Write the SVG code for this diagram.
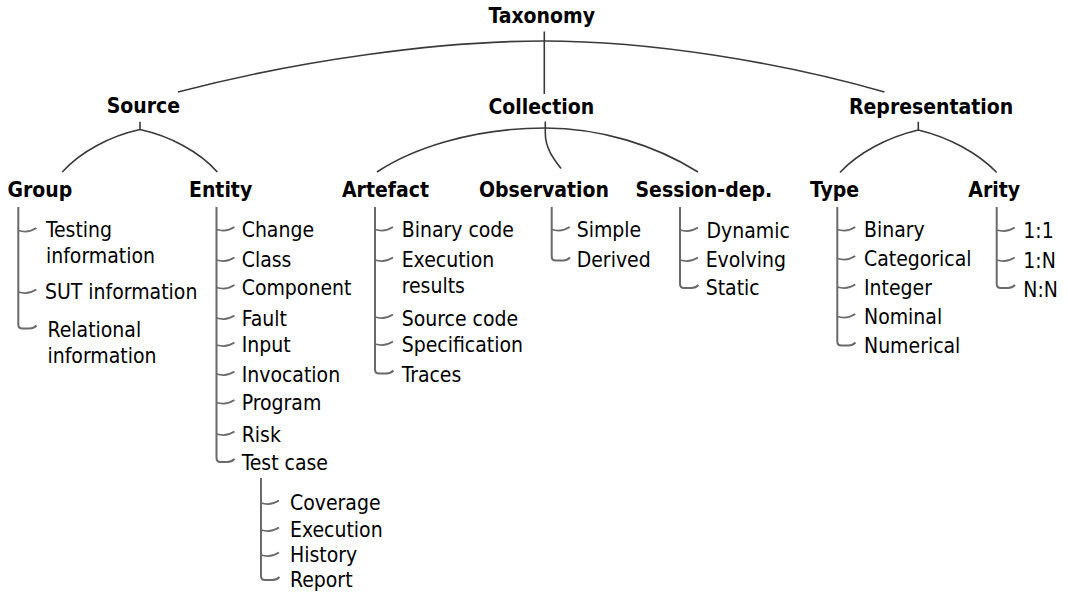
<svg xmlns="http://www.w3.org/2000/svg" width="1068" height="597" viewBox="0 0 1068 597">
<style>
text{font-family:"DejaVu Sans Condensed","DejaVu Sans",sans-serif;font-stretch:condensed;fill:#000}
.h{font-weight:bold;font-size:21px}
.t{font-size:21px}
.arc{fill:none;stroke:#3a3a3a;stroke-width:1.6}
.br{fill:none;stroke:#6a6a6a;stroke-width:2}
.tk{fill:none;stroke:#6a6a6a;stroke-width:1.8}
</style>
<rect width="1068" height="597" fill="#fff"/>
<g id="connectors">
<path class="arc" d="M178,92 C300,60 440,41 544,41 C650,41 780,62 884.5,92"/>
<path class="arc" d="M544.3,31.5 V94"/>
<path class="arc" d="M140,121.7 V129.5 M140,129.5 C110,136 80,152 62.3,172 M140,129.5 C170,136 200,152 217.3,172"/>
<path class="arc" d="M377,172 C410,150 470,128 545,128 C600,128 655,145 698,172"/>
<path class="arc" d="M545.3,121.5 V133 C545.3,148 553,158 561,168.5"/>
<path class="arc" d="M918.3,121.7 V130 M918.3,130 C888,137 858,153 840,172.5 M918.3,130 C948,137 978,153 996.7,172.5"/>
<g id="brackets">
<path class="br" d="M18.3,207 V324.5 Q18.3,328.5 22.3,328.5 L29.5,328.5 Q33.5,328.5 36.5,325.5"/>
<path class="tk" d="M18.3,230.5 c6,1.8 12,1.5 18,-2.5 M18.3,292 c6,1.8 12,1.5 18,-2.5"/>
<path class="br" d="M216.5,207 V458 Q216.5,462 220.5,462 L227.5,462 Q231.5,462 234.5,459"/>
<path class="tk" d="M216.5,229.5 c6,1.8 12,1.5 18,-2.5 M216.5,260 c6,1.8 12,1.5 18,-2.5 M216.5,287.5 c6,1.8 12,1.5 18,-2.5 M216.5,318 c6,1.8 12,1.5 18,-2.5 M216.5,345 c6,1.8 12,1.5 18,-2.5 M216.5,374 c6,1.8 12,1.5 18,-2.5 M216.5,402.5 c6,1.8 12,1.5 18,-2.5 M216.5,434 c6,1.8 12,1.5 18,-2.5"/>
<path class="br" d="M261,478 V576 Q261,580 265,580 L272.5,580 Q276.5,580 279.5,577"/>
<path class="tk" d="M261,503 c6,1.8 12,1.5 18,-2.5 M261,530 c6,1.8 12,1.5 18,-2.5 M261,555 c6,1.8 12,1.5 18,-2.5"/>
<path class="br" d="M375,207 V369.5 Q375,373.5 379,373.5 L386.5,373.5 Q390.5,373.5 393.5,370.5"/>
<path class="tk" d="M375,229.5 c6,1.8 12,1.5 18,-2.5 M375,260 c6,1.8 12,1.5 18,-2.5 M375,317 c6,1.8 12,1.5 18,-2.5 M375,344 c6,1.8 12,1.5 18,-2.5"/>
<path class="br" d="M551.7,207 V256.5 Q551.7,260.5 555.7,260.5 L563,260.5 Q567,260.5 570,257.5"/>
<path class="tk" d="M551.7,229.5 c6,1.8 12,1.5 18,-2.5"/>
<path class="br" d="M680,207 V284 Q680,288 684,288 L691.5,288 Q695.5,288 698.5,285"/>
<path class="tk" d="M680,230 c6,1.8 12,1.5 18,-2.5 M680,260 c6,1.8 12,1.5 18,-2.5"/>
<path class="br" d="M837.3,207 V341.5 Q837.3,345.5 841.3,345.5 L848.5,345.5 Q852.5,345.5 855.5,342.5"/>
<path class="tk" d="M837.3,229.5 c6,1.8 12,1.5 18,-2.5 M837.3,258.5 c6,1.8 12,1.5 18,-2.5 M837.3,287 c6,1.8 12,1.5 18,-2.5 M837.3,316.5 c6,1.8 12,1.5 18,-2.5"/>
<path class="br" d="M996.7,207 V284 Q996.7,288 1000.7,288 L1008,288 Q1012,288 1015,285"/>
<path class="tk" d="M996.7,230 c6,1.8 12,1.5 18,-2.5 M996.7,260 c6,1.8 12,1.5 18,-2.5"/>
</g>
</g>
<g id="n-taxonomy"><text class="h" x="488.5" y="23">Taxonomy</text></g>
<g id="n-source"><text class="h" x="106.7" y="112.5">Source</text></g>
<g id="n-collection"><text class="h" x="488.5" y="113.5">Collection</text></g>
<g id="n-representation"><text class="h" x="849" y="113.5">Representation</text></g>
<g id="n-group"><text class="h" x="7.5" y="196.5">Group</text></g>
<g id="n-entity"><text class="h" x="189" y="196.5">Entity</text></g>
<g id="n-artefact"><text class="h" x="342" y="196.5">Artefact</text></g>
<g id="n-observation"><text class="h" x="479" y="196.5">Observation</text></g>
<g id="n-session"><text class="h" x="635.5" y="196.5">Session-dep.</text></g>
<g id="n-type"><text class="h" x="810" y="196.5">Type</text></g>
<g id="n-arity"><text class="h" x="968.3" y="196.5">Arity</text></g>
<g id="n-group-items">
<text class="t" x="46" y="236.7">Testing</text>
<text class="t" x="46" y="263.3">information</text>
<text class="t" x="45" y="299">SUT information</text>
<text class="t" x="47.5" y="336.7">Relational</text>
<text class="t" x="47.5" y="362.7">information</text>
</g>
<g id="n-entity-items">
<text class="t" x="241.7" y="236.7">Change</text>
<text class="t" x="241.7" y="267.3">Class</text>
<text class="t" x="241.7" y="295">Component</text>
<text class="t" x="241.7" y="325.7">Fault</text>
<text class="t" x="241.7" y="352.3">Input</text>
<text class="t" x="241.7" y="381.5">Invocation</text>
<text class="t" x="241.7" y="410">Program</text>
<text class="t" x="241.7" y="441.7">Risk</text>
<text class="t" x="241.7" y="470">Test case</text>
</g>
<g id="n-testcase-items">
<text class="t" x="290" y="510">Coverage</text>
<text class="t" x="290" y="537.3">Execution</text>
<text class="t" x="290" y="561.7">History</text>
<text class="t" x="290" y="587.3">Report</text>
</g>
<g id="n-artefact-items">
<text class="t" x="401.7" y="236.7">Binary code</text>
<text class="t" x="401.7" y="267.3">Execution</text>
<text class="t" x="401.7" y="293.3">results</text>
<text class="t" x="401.7" y="325.7">Source code</text>
<text class="t" x="401.7" y="352.3">Specification</text>
<text class="t" x="401.7" y="381.5">Traces</text>
</g>
<g id="n-observation-items">
<text class="t" x="576.7" y="236.7">Simple</text>
<text class="t" x="576.7" y="267.3">Derived</text>
</g>
<g id="n-session-items">
<text class="t" x="706.5" y="238.3">Dynamic</text>
<text class="t" x="705.7" y="267.3">Evolving</text>
<text class="t" x="705.7" y="295">Static</text>
</g>
<g id="n-type-items">
<text class="t" x="864" y="236.7">Binary</text>
<text class="t" x="864" y="266">Categorical</text>
<text class="t" x="864" y="295">Integer</text>
<text class="t" x="864" y="324">Nominal</text>
<text class="t" x="864" y="353.3">Numerical</text>
</g>
<g id="n-arity-items">
<text class="t" x="1023.3" y="238">1:1</text>
<text class="t" x="1023.3" y="268">1:N</text>
<text class="t" x="1023.3" y="296.7">N:N</text>
</g>
</svg>
